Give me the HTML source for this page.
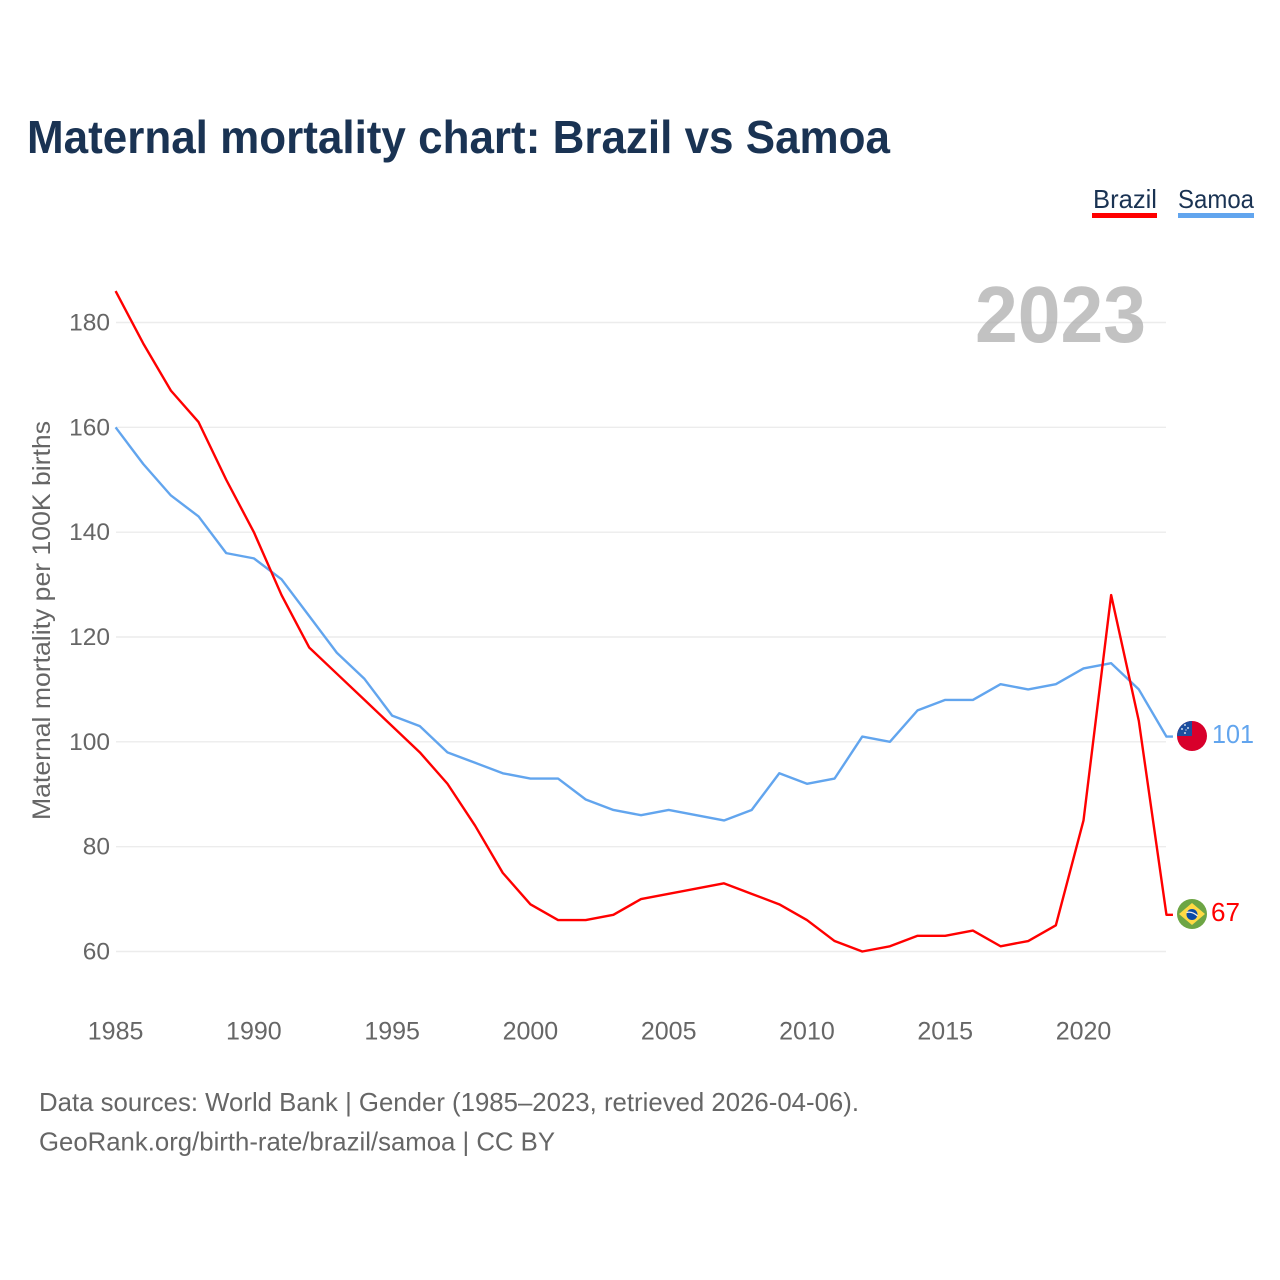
<!DOCTYPE html>
<html lang="en">
<head>
<meta charset="utf-8">
<title>Maternal mortality chart: Brazil vs Samoa</title>
<style>
html,body{margin:0;padding:0;background:#fff;width:1280px;height:1280px;overflow:hidden}
svg{display:block}
text{font-family:"Liberation Sans",sans-serif}
</style>
</head>
<body>
<svg id="chart" xmlns="http://www.w3.org/2000/svg" width="1280" height="1280" viewBox="0 0 1280 1280">
  <defs>
    <clipPath id="flag-clip-samoa"><circle cx="1192" cy="736" r="15"/></clipPath>
    <clipPath id="flag-clip-brazil"><circle cx="1192" cy="914" r="15"/></clipPath>
  </defs>
  <text x="27" y="153" font-size="46" font-weight="700" fill="#1a3353" textLength="863" lengthAdjust="spacingAndGlyphs">Maternal mortality chart: Brazil vs Samoa</text>

  <g>
    <g>
      <text x="1093" y="208" font-size="26" fill="#1a3353" textLength="64" lengthAdjust="spacingAndGlyphs">Brazil</text>
      <rect x="1092" y="213" width="65" height="5" fill="#ff0000"/>
    </g>
    <g>
      <text x="1178" y="208" font-size="26" fill="#1a3353" textLength="76" lengthAdjust="spacingAndGlyphs">Samoa</text>
      <rect x="1178" y="213" width="76" height="5" fill="#62a5ee"/>
    </g>
  </g>

  <g id="grid"></g>
  <text x="975" y="342" font-size="80" font-weight="700" fill="#aaaaaa" fill-opacity="0.72" textLength="171" lengthAdjust="spacingAndGlyphs">2023</text>
  <g id="y-ticks"></g>
  <g id="x-ticks"></g>
  <text transform="translate(50 820) rotate(-90)" font-size="25" fill="#666666" textLength="399" lengthAdjust="spacingAndGlyphs">Maternal mortality per 100K births</text>
  <g id="series"></g>

  <g clip-path="url(#flag-clip-samoa)">
    <rect x="1177" y="721" width="30" height="30" fill="#d8002b"/>
    <rect x="1177" y="721" width="15" height="15" fill="#1d4f9f"/>
    <circle cx="1185" cy="725" r="0.9" fill="#fff"/>
    <circle cx="1188" cy="728" r="0.9" fill="#fff"/>
    <circle cx="1182" cy="729" r="0.9" fill="#fff"/>
    <circle cx="1185" cy="733" r="0.9" fill="#fff"/>
    <circle cx="1186" cy="730" r="0.6" fill="#fff"/>
  </g>
  <g clip-path="url(#flag-clip-brazil)">
    <rect x="1177" y="899" width="30" height="30" fill="#6da544"/>
    <polygon points="1192,903 1205,914 1192,925 1179,914" fill="#ffda44"/>
    <circle cx="1192" cy="914.5" r="5.5" fill="#0a4aa6"/>
    <path d="M1186.5 912.5 Q1192 911 1197.5 916" stroke="#f0f0f0" stroke-width="1.2" fill="none"/>
  </g>

  <text id="end-label-samoa" x="1212" y="743" font-size="26" fill="#62a5ee" textLength="42" lengthAdjust="spacingAndGlyphs">101</text>
  <text id="end-label-brazil" x="1211" y="921" font-size="26" fill="#ff0000" textLength="29" lengthAdjust="spacingAndGlyphs">67</text>

  <g>
    <text x="39" y="1111" font-size="26" fill="#666666" textLength="820" lengthAdjust="spacingAndGlyphs">Data sources: World Bank | Gender (1985–2023, retrieved 2026-04-06).</text>
    <text x="39" y="1150.5" font-size="26" fill="#666666" textLength="516" lengthAdjust="spacingAndGlyphs">GeoRank.org/birth-rate/brazil/samoa | CC BY</text>
  </g>
</svg>
<script>
const years = [1985,1986,1987,1988,1989,1990,1991,1992,1993,1994,1995,1996,1997,1998,1999,2000,2001,2002,2003,2004,2005,2006,2007,2008,2009,2010,2011,2012,2013,2014,2015,2016,2017,2018,2019,2020,2021,2022,2023];
const brazilValues = [186,176,167,161,150,140,128,118,113,108,103,98,92,84,75,69,66,66,67,70,71,72,73,71,69,66,62,60,61,63,63,64,61,62,65,85,128,104,67];
const samoaValues = [160,153,147,143,136,135,131,124,117,112,105,103,98,96,94,93,93,89,87,86,87,86,85,87,94,92,93,101,100,106,108,108,111,110,111,114,115,110,101];
const yTickValues = [60,80,100,120,140,160,180];
const xTickValues = [1985,1990,1995,2000,2005,2010,2015,2020];

const NS = 'http://www.w3.org/2000/svg';
function xScale(year) { return 115.6 + (year - 1985) * (1083.5 - 115.6) / 35; }
function yScale(value) { return 951.5 - (value - 60) * (951.5 - 322.5) / 120; }

const grid = document.getElementById('grid');
const yTicks = document.getElementById('y-ticks');
const xTicks = document.getElementById('x-ticks');
const series = document.getElementById('series');

yTickValues.forEach(function (v) {
  const line = document.createElementNS(NS, 'line');
  
  
  line.setAttribute('x1', 116);
  line.setAttribute('x2', 1166);
  line.setAttribute('y1', yScale(v));
  line.setAttribute('y2', yScale(v));
  line.setAttribute('stroke', '#ececec');
  line.setAttribute('stroke-width', '1.4');
  grid.appendChild(line);

  const label = document.createElementNS(NS, 'text');
  
  
  label.setAttribute('x', 110);
  label.setAttribute('y', yScale(v) + 8);
  label.setAttribute('text-anchor', 'end');
  label.setAttribute('font-size', '24.5');
  label.setAttribute('fill', '#666666');
  label.textContent = String(v);
  yTicks.appendChild(label);
});

xTickValues.forEach(function (v) {
  const label = document.createElementNS(NS, 'text');
  
  
  label.setAttribute('x', xScale(v));
  label.setAttribute('y', 1039.5);
  label.setAttribute('text-anchor', 'middle');
  label.setAttribute('font-size', '25');
  label.setAttribute('fill', '#666666');
  label.textContent = String(v);
  xTicks.appendChild(label);
});

function drawSeries(values, color, seriesName) {
  const pts = values.map(function (v, i) { return xScale(years[i]).toFixed(2) + ',' + yScale(v).toFixed(2); });
  const lastValue = values[values.length - 1];
  pts.push((xScale(years[years.length - 1]) + 6.5).toFixed(2) + ',' + yScale(lastValue).toFixed(2));
  const line = document.createElementNS(NS, 'polyline');
  
  
  line.setAttribute('points', pts.join(' '));
  line.setAttribute('fill', 'none');
  line.setAttribute('stroke', color);
  line.setAttribute('stroke-width', '2.4');
  line.setAttribute('stroke-linejoin', 'round');
  series.appendChild(line);
}
drawSeries(samoaValues, '#62a5ee', 'line-samoa');
drawSeries(brazilValues, '#ff0000', 'line-brazil');

document.getElementById('end-label-samoa').textContent = String(samoaValues[samoaValues.length - 1]);
document.getElementById('end-label-brazil').textContent = String(brazilValues[brazilValues.length - 1]);
</script>
</body>
</html>
